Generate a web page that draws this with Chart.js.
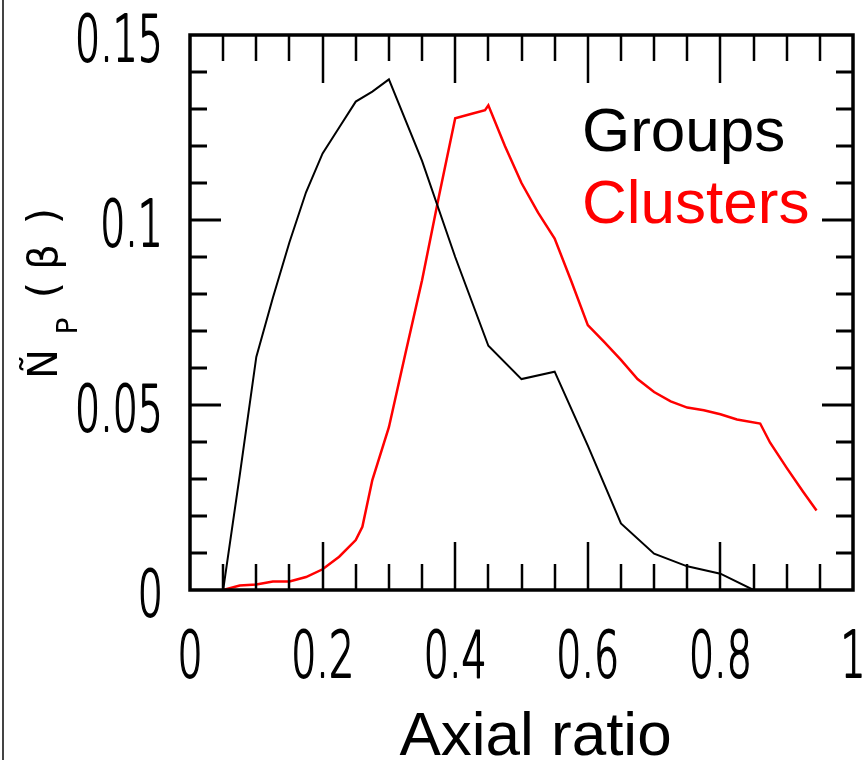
<!DOCTYPE html>
<html><head><meta charset="utf-8">
<script src="https://cdn.jsdelivr.net/npm/chart.js@4.4.1/dist/chart.umd.min.js"></script>
<style>
html,body{margin:0;padding:0;background:#fff;}
#wrap{position:relative;width:864px;height:760px;overflow:hidden;background:#fff;}
#edge{position:absolute;left:2px;top:0;width:2px;height:760px;background:#444;}
canvas{position:absolute;left:0;top:0;}
</style></head><body>
<div id="wrap"><canvas id="c" width="864" height="760"></canvas><div id="edge"></div></div>
<script>
// ---- data ----
const groupsX = [0.05, 0.075, 0.1, 0.125, 0.15, 0.175, 0.2, 0.225, 0.25, 0.275, 0.3, 0.35, 0.4, 0.45, 0.5, 0.55, 0.6, 0.65, 0.7, 0.75, 0.8, 0.85];
const groupsY = [0, 0.031, 0.063, 0.079, 0.094, 0.1075, 0.118, 0.125, 0.132, 0.1347, 0.138, 0.116, 0.090, 0.066, 0.057, 0.059, 0.039, 0.018, 0.0098, 0.0064, 0.0044, 0.0];
const clustersX = [0.05, 0.075, 0.1, 0.125, 0.15, 0.175, 0.2, 0.225, 0.25, 0.26, 0.275, 0.3, 0.325, 0.35, 0.375, 0.4, 0.425, 0.445, 0.45, 0.475, 0.5, 0.525, 0.55, 0.575, 0.6, 0.625, 0.65, 0.675, 0.7, 0.725, 0.75, 0.775, 0.8, 0.825, 0.86, 0.875, 0.9, 0.925, 0.945];
const clustersY = [0, 0.0012, 0.0015, 0.0023, 0.0023, 0.0035, 0.0056, 0.009, 0.0135, 0.0171, 0.0297, 0.044, 0.064, 0.0837, 0.106, 0.1275, 0.1287, 0.1297, 0.131, 0.120, 0.110, 0.102, 0.095, 0.0835, 0.0716, 0.067, 0.0622, 0.057, 0.0535, 0.051, 0.0493, 0.0486, 0.0475, 0.0461, 0.045, 0.0398, 0.033, 0.0265, 0.0215];
const seriesNames = ['Groups', 'Clusters'];
const seriesColors = ['#000000', '#ff0000'];
const xTickLabels = ['0', '0.2', '0.4', '0.6', '0.8', '1'];
const yTickLabels = ['0', '0.05', '0.1', '0.15'];
const xTitle = 'Axial ratio';
const yTitleParts = ['Ñ', 'P', '(', 'β', ')'];

const toPts = (xs, ys) => xs.map((v, i) => ({x: v, y: ys[i]}));

const framePlugin = {
  id: 'frame',
  afterDatasetsDraw(chart) {
    const {ctx, chartArea: a, scales: {x, y}} = chart;
    ctx.save();
    ctx.strokeStyle = '#000';
    ctx.lineCap = 'butt';
    const seg = (x1, y1, x2, y2) => { ctx.beginPath(); ctx.moveTo(x1, y1); ctx.lineTo(x2, y2); ctx.stroke(); };
    // x ticks (inward, top and bottom)
    ctx.lineWidth = 2.5;
    for (let i = 1; i < 20; i++) {
      const px = Math.round(x.getPixelForValue(i * 0.05));
      const len = (i % 4 === 0) ? 48 : 26;
      seg(px, a.bottom, px, a.bottom - len);
      seg(px, a.top, px, a.top + len);
    }
    // y ticks (inward, left and right)
    ctx.lineWidth = 3;
    for (let i = 1; i < 15; i++) {
      const py = Math.round(y.getPixelForValue(i * 0.01));
      const len = (i % 5 === 0) ? 31 : 17;
      seg(a.left, py, a.left + len, py);
      seg(a.right, py, a.right - len, py);
    }
    ctx.lineWidth = 3.5;
    ctx.strokeRect(a.left, a.top, a.right - a.left, a.bottom - a.top);

    // tick labels (tall condensed digits)
    ctx.fillStyle = '#000';
    ctx.font = "300 100px 'DejaVu Sans'";
    const asc = ctx.measureText('0').actualBoundingBoxAscent || 73;
    const fs = 100 * 48 / asc;
    ctx.font = "300 " + fs.toFixed(1) + "px 'DejaVu Sans'";
    const sx = 88 / ctx.measureText('0.15').width;
    ctx.textBaseline = 'alphabetic';
    ctx.lineWidth = 2;
    ctx.lineJoin = 'round';
    const label = (t) => { ctx.fillText(t, 0, 0); ctx.strokeText(t, 0, 0); };
    xTickLabels.forEach(t => {
      const px = x.getPixelForValue(parseFloat(t));
      ctx.save(); ctx.translate(px, a.bottom + 87); ctx.scale(sx, 1);
      ctx.textAlign = 'center'; label(t); ctx.restore();
    });
    yTickLabels.forEach(t => {
      const py = y.getPixelForValue(parseFloat(t));
      ctx.save(); ctx.translate(a.left - 27, py + 26); ctx.scale(sx, 1);
      ctx.textAlign = 'right'; label(t); ctx.restore();
    });

    // x title
    ctx.font = "62px 'Liberation Sans', Arial, sans-serif";
    ctx.textAlign = 'center';
    ctx.fillText(xTitle, (a.left + a.right) / 2 + 14, a.bottom + 165);

    // y title (rotated, with subscript)
    const glyph = (g, size, b, c) => {
      ctx.save(); ctx.font = size + "px 'DejaVu Sans'"; ctx.translate(b, c); ctx.rotate(-Math.PI / 2);
      ctx.textAlign = 'center'; ctx.fillText(g, 0, 0); ctx.restore();
    };
    glyph(yTitleParts[0], 40, 57, 364);
    glyph(yTitleParts[1], 28, 77, 326);
    glyph(yTitleParts[2], 42, 58, 290);
    glyph(yTitleParts[3], 40, 57, 257);
    glyph(yTitleParts[4], 42, 58, 216);

    // legend text
    ctx.font = "62px 'Liberation Sans', Arial, sans-serif";
    ctx.textAlign = 'left';
    chart.data.datasets.forEach((ds, i) => {
      ctx.fillStyle = ds.borderColor;
      ctx.fillText(ds.label, a.left + 392, a.top + 116 + i * 72);
    });
    ctx.restore();
  }
};

new Chart(document.getElementById('c'), {
  type: 'line',
  data: {
    datasets: [
      {label: seriesNames[0], data: toPts(groupsX, groupsY), borderColor: seriesColors[0], borderWidth: 2, pointRadius: 0, tension: 0, fill: false},
      {label: seriesNames[1], data: toPts(clustersX, clustersY), borderColor: seriesColors[1], borderWidth: 2.5, pointRadius: 0, tension: 0, fill: false}
    ]
  },
  options: {
    responsive: false,
    animation: false,
    devicePixelRatio: 1,
    layout: {padding: {left: 190, right: 11, top: 35, bottom: 170}},
    plugins: {legend: {display: false}, tooltip: {enabled: false}},
    scales: {
      x: {type: 'linear', min: 0, max: 1, display: false},
      y: {type: 'linear', min: 0, max: 0.15, display: false}
    }
  },
  plugins: [framePlugin]
});
</script>
</body></html>
